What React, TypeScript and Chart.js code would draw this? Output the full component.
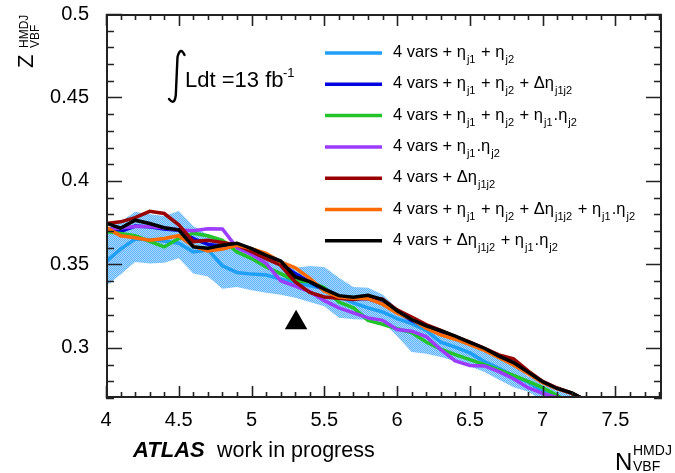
import React, { useEffect, useRef } from "react";
import { Chart, registerables } from "chart.js";
Chart.register(...registerables);

// ---------------- data ----------------
const nvbf = [4.0, 4.1, 4.2, 4.3, 4.4, 4.5, 4.6, 4.7, 4.8, 4.9, 5.0, 5.1, 5.2, 5.3, 5.4, 5.5, 5.6, 5.7, 5.8, 5.9, 6.0, 6.1, 6.2, 6.3, 6.4, 6.5, 6.6, 6.7, 6.8, 6.9, 7.0, 7.1, 7.2, 7.3];

const zLightBlue = [0.3517, 0.3592, 0.3652, 0.3648, 0.364, 0.3627, 0.3575, 0.3587, 0.3492, 0.3452, 0.3442, 0.3437, 0.3412, 0.3395, 0.3372, 0.3355, 0.331, 0.327, 0.324, 0.3215, 0.3175, 0.3145, 0.3105, 0.3035, 0.3005, 0.297, 0.2918, 0.2878, 0.2832, 0.2795, 0.2742, 0.2698, 0.265, 0.26];
const zBlue = [0.3717, 0.3697, 0.373, 0.3725, 0.3712, 0.3705, 0.3655, 0.362, 0.361, 0.3615, 0.3585, 0.3545, 0.3505, 0.3445, 0.3395, 0.3345, 0.3305, 0.3295, 0.3295, 0.3265, 0.3215, 0.3165, 0.3128, 0.3098, 0.3065, 0.3028, 0.2992, 0.2948, 0.2905, 0.2852, 0.2795, 0.2758, 0.2728, 0.2683];
const zGreen = [0.3697, 0.3685, 0.3672, 0.3638, 0.3605, 0.3655, 0.3687, 0.3672, 0.3645, 0.3575, 0.3535, 0.3485, 0.3445, 0.3402, 0.3397, 0.336, 0.3275, 0.324, 0.3165, 0.3142, 0.3115, 0.3092, 0.3035, 0.2993, 0.296, 0.293, 0.29, 0.2868, 0.2835, 0.28, 0.2762, 0.2715, 0.2665, 0.262];
const zPurple = [0.3707, 0.3718, 0.3727, 0.3727, 0.3718, 0.3707, 0.3702, 0.3713, 0.3712, 0.36, 0.356, 0.3507, 0.3402, 0.337, 0.3337, 0.3283, 0.324, 0.321, 0.318, 0.3165, 0.311, 0.31, 0.3068, 0.299, 0.2922, 0.2895, 0.2892, 0.2858, 0.2815, 0.2762, 0.2728, 0.2702, 0.265, 0.26];
const zRed = [0.3745, 0.3755, 0.378, 0.3818, 0.3805, 0.3737, 0.3637, 0.3645, 0.3632, 0.3617, 0.3577, 0.3535, 0.3495, 0.3395, 0.3332, 0.3305, 0.3297, 0.329, 0.3303, 0.3292, 0.3228, 0.3185, 0.314, 0.3105, 0.3068, 0.3035, 0.2997, 0.2958, 0.2935, 0.2862, 0.28, 0.276, 0.273, 0.2685];
const zOrange = [0.3722, 0.3672, 0.366, 0.3645, 0.3655, 0.3672, 0.361, 0.358, 0.3592, 0.3615, 0.3595, 0.3567, 0.3515, 0.348, 0.3417, 0.334, 0.3305, 0.3297, 0.3295, 0.3262, 0.3208, 0.3172, 0.3118, 0.3078, 0.3052, 0.302, 0.2985, 0.2942, 0.2898, 0.2845, 0.2792, 0.2755, 0.2728, 0.2683];
const zBlack = [0.3747, 0.3717, 0.3765, 0.3745, 0.372, 0.3707, 0.3605, 0.3597, 0.3615, 0.3627, 0.3595, 0.3555, 0.352, 0.3425, 0.3397, 0.3352, 0.3313, 0.3303, 0.3315, 0.329, 0.3222, 0.317, 0.3132, 0.3103, 0.307, 0.3033, 0.2998, 0.2951, 0.2912, 0.2855, 0.2797, 0.2757, 0.273, 0.2685];

const bandUpper = [0.3705, 0.3755, 0.3815, 0.38, 0.379, 0.382, 0.373, 0.3677, 0.363, 0.361, 0.36, 0.3575, 0.353, 0.348, 0.349, 0.3485, 0.342, 0.3365, 0.336, 0.332, 0.3235, 0.318, 0.313, 0.3098, 0.305, 0.302, 0.298, 0.2945, 0.29, 0.283, 0.28, 0.275, 0.2715, 0.266];
const bandLower = [0.337, 0.344, 0.3515, 0.3505, 0.351, 0.3537, 0.3445, 0.3427, 0.3355, 0.3365, 0.3345, 0.333, 0.3318, 0.33, 0.3275, 0.325, 0.318, 0.3172, 0.3168, 0.316, 0.307, 0.2975, 0.2965, 0.2945, 0.292, 0.289, 0.2855, 0.281, 0.2765, 0.2738, 0.2685, 0.264, 0.26, 0.256];

const markerX = [5.306];
const markerY = [0.315];

const seriesNames = [
  "4 vars + η_{j1} + η_{j2}",
  "4 vars + η_{j1} + η_{j2} + Δη_{j1j2}",
  "4 vars + η_{j1} + η_{j2} + η_{j1}.η_{j2}",
  "4 vars + η_{j1}.η_{j2}",
  "4 vars + Δη_{j1j2}",
  "4 vars + η_{j1} + η_{j2} + Δη_{j1j2} + η_{j1}.η_{j2}",
  "4 vars + Δη_{j1j2} + η_{j1}.η_{j2}",
];
const seriesValues = [zLightBlue, zBlue, zGreen, zPurple, zRed, zOrange, zBlack];
const seriesColors = ["#1f9ff7", "#0000e0", "#22c42a", "#9b3cff", "#990000", "#ff6a00", "#000000"];
const drawOrder = [6, 5, 4, 3, 2, 1, 0]; // first = on top

const xTickValues = [4, 4.5, 5, 5.5, 6, 6.5, 7, 7.5];
const yTickValues = [0.3, 0.35, 0.4, 0.45, 0.5];
const xMin = 4, xMax = 7.82, yMin = 0.27, yMax = 0.5;

const FONT = "'Liberation Sans', Arial, Helvetica, sans-serif";

function drawRich(ctx: CanvasRenderingContext2D, text: string, x: number, y: number, size: number, subSize: number, subDy: number) {
  const re = /_\{([^}]*)\}/g;
  let last = 0;
  let m: RegExpExecArray | null;
  let cx = x;
  ctx.textAlign = "left";
  ctx.textBaseline = "alphabetic";
  const put = (t: string, s: number, dy: number, extra: number) => {
    ctx.font = `${s}px ${FONT}`;
    ctx.fillText(t, cx, y + dy);
    cx += ctx.measureText(t).width + extra;
  };
  while ((m = re.exec(text))) {
    put(text.slice(last, m.index), size, 0, 1);
    put(m[1], subSize, subDy, 1);
    last = re.lastIndex;
  }
  put(text.slice(last), size, 0, 0);
}

function drawFrame(chart: any) {
  const ctx: CanvasRenderingContext2D = chart.ctx;
  const xs = chart.scales.x;
  const ys = chart.scales.y;
  const L0 = Math.round(xs.left);
  const R0 = Math.round(xs.right);
  const T0 = Math.round(ys.top);
  const B0 = Math.round(ys.bottom);
  ctx.save();
  ctx.setLineDash([]);
  ctx.globalAlpha = 1;
  ctx.strokeStyle = "#222222";
  ctx.lineWidth = 2;
  ctx.beginPath();
  ctx.rect(L0 + 1, T0 + 1, R0 - L0 - 2, B0 - T0 - 2);
  ctx.stroke();
  ctx.lineWidth = 1.6;
  ctx.beginPath();
  for (let i = 0; i <= Math.round((xMax - xMin) * 10); i++) {
    const v = xMin + i * 0.1;
    if (v > xMax + 1e-9) break;
    const px = Math.round(xs.getPixelForValue(v)) + 0.5;
    const major = Math.abs(v * 2 - Math.round(v * 2)) < 1e-6;
    const L = major ? 12 : 6;
    ctx.moveTo(px, B0);
    ctx.lineTo(px, B0 - L);
    ctx.moveTo(px, T0);
    ctx.lineTo(px, T0 + L);
  }
  for (let i = 0; i <= Math.round((yMax - yMin) * 100); i++) {
    const v = yMin + i * 0.01;
    const py = Math.round(ys.getPixelForValue(v)) + 0.5;
    const major = Math.abs(v * 20 - Math.round(v * 20)) < 1e-6;
    const L = major ? 16 : 8;
    ctx.moveTo(L0, py);
    ctx.lineTo(L0 + L, py);
    ctx.moveTo(R0, py);
    ctx.lineTo(R0 - L, py);
  }
  ctx.stroke();
  ctx.restore();
}

const decorPlugin = {
  id: "decor",
  afterDraw(chart: any) {
    const ctx: CanvasRenderingContext2D = chart.ctx;
    ctx.save();
    drawFrame(chart);

    // legend
    ctx.fillStyle = "#000";
    for (let i = 0; i < seriesNames.length; i++) {
      const ly = 53 + i * 31.3;
      ctx.strokeStyle = seriesColors[i];
      ctx.lineWidth = 3.5;
      ctx.beginPath();
      ctx.moveTo(325, ly);
      ctx.lineTo(382, ly);
      ctx.stroke();
      drawRich(ctx, seriesNames[i], 393, ly + 4, 16.5, 11, 6);
    }

    // integral luminosity
    ctx.strokeStyle = "#000";
    ctx.lineWidth = 2.4;
    ctx.lineCap = "round";
    ctx.beginPath();
    ctx.moveTo(184.5, 55);
    ctx.quadraticCurveTo(180.5, 46, 177.5, 57);
    ctx.lineTo(175.8, 95);
    ctx.quadraticCurveTo(174.5, 106, 169, 99);
    ctx.stroke();
    ctx.font = `22px ${FONT}`;
    ctx.textAlign = "left";
    ctx.textBaseline = "alphabetic";
    ctx.fillText("Ldt =13 fb", 185, 87);
    ctx.font = `13px ${FONT}`;
    ctx.fillText("-1", 283, 77);

    // ATLAS label
    ctx.font = `italic bold 22px ${FONT}`;
    ctx.fillText("ATLAS", 133, 457);
    ctx.font = `21.5px ${FONT}`;
    ctx.fillText("work in progress", 217, 457);

    // x title
    ctx.font = `24px ${FONT}`;
    ctx.fillText("N", 615, 470);
    ctx.font = `14px ${FONT}`;
    ctx.fillText("HMDJ", 633, 455);
    ctx.fillText("VBF", 633, 471);

    // y title (rotated)
    ctx.save();
    ctx.translate(33, 68);
    ctx.rotate(-Math.PI / 2);
    ctx.font = `22px ${FONT}`;
    ctx.fillText("Z", 0, 0);
    ctx.font = `12px ${FONT}`;
    ctx.fillText("HMDJ", 20, -5);
    ctx.fillText("VBF", 20, 6);
    ctx.restore();

    ctx.restore();
  },
};

export default function App() {
  const ref = useRef<HTMLCanvasElement | null>(null);
  useEffect(() => {
    document.body.style.margin = "0";
    const canvas = ref.current!;
    const ctx = canvas.getContext("2d")!;
    const pc = document.createElement("canvas");
    pc.width = 2;
    pc.height = 2;
    const pctx = pc.getContext("2d")!;
    pctx.fillStyle = "#a9d7ff";
    pctx.fillRect(0, 0, 2, 2);
    pctx.fillStyle = "#5fb4ff";
    pctx.fillRect(0, 0, 1, 1);
    pctx.fillRect(1, 1, 1, 1);
    const pattern = ctx.createPattern(pc, "repeat")!;

    const lineSets = drawOrder.map((i) => ({
      type: "line" as const,
      label: seriesNames[i],
      data: nvbf.map((x, k) => ({ x, y: seriesValues[i][k] })),
      borderColor: seriesColors[i],
      backgroundColor: seriesColors[i],
      borderWidth: 3.5,
      pointRadius: 0,
      tension: 0,
      fill: false,
      clip: 0,
    }));

    const datasets: any[] = [
      {
        type: "scatter",
        label: "marker",
        data: markerX.map((x, k) => ({ x, y: markerY[k] })),
        pointStyle: "triangle",
        pointRadius: 13,
        backgroundColor: "#000",
        borderColor: "#000",
        borderWidth: 0,
        clip: 0,
      },
      ...lineSets,
      {
        type: "line",
        label: "band upper",
        data: nvbf.map((x, k) => ({ x, y: bandUpper[k] })),
        borderWidth: 0,
        borderColor: "rgba(0,0,0,0)",
        pointRadius: 0,
        fill: "+1",
        backgroundColor: pattern,
        clip: 0,
      },
      {
        type: "line",
        label: "band lower",
        data: nvbf.map((x, k) => ({ x, y: bandLower[k] })),
        borderWidth: 0,
        borderColor: "rgba(0,0,0,0)",
        pointRadius: 0,
        fill: false,
        clip: 0,
      },
    ];

    Chart.defaults.font.family = FONT;
    const chart = new Chart(ctx, {
      type: "line",
      data: { datasets },
      options: {
        responsive: false,
        animation: false,
        devicePixelRatio: 1,
        layout: { padding: { top: 14, right: 3, left: 0, bottom: 0 } },
        plugins: { legend: { display: false }, tooltip: { enabled: false } },
        scales: {
          x: {
            type: "linear",
            min: xMin,
            max: xMax,
            grid: { display: false },
            border: { display: false },
            ticks: {
              font: { family: FONT, size: 20 },
              color: "#000",
              padding: 2,
              maxRotation: 0,
              autoSkip: false,
              callback: (v: any) => String(+Number(v).toFixed(2)),
            },
            afterBuildTicks: (s: any) => {
              s.ticks = xTickValues.map((v) => ({ value: v }));
            },
            afterFit: (s: any) => {
              s.height = 75;
              s.paddingLeft = 0;
              s.paddingRight = 0;
            },
          },
          y: {
            type: "linear",
            min: yMin,
            max: yMax,
            grid: { display: false },
            border: { display: false },
            ticks: {
              font: { family: FONT, size: 20 },
              color: "#000",
              padding: 9,
              autoSkip: false,
              callback: (v: any) => String(+Number(v).toFixed(3)),
            },
            afterBuildTicks: (s: any) => {
              s.ticks = yTickValues.map((v) => ({ value: v }));
            },
            afterFit: (s: any) => {
              s.width = 106;
              s.paddingTop = 0;
              s.paddingBottom = 0;
            },
          },
        },
      },
      plugins: [decorPlugin],
    });
    return () => chart.destroy();
  }, []);
  return <canvas ref={ref} width={675} height={473} style={{ display: "block" }} />;
}
